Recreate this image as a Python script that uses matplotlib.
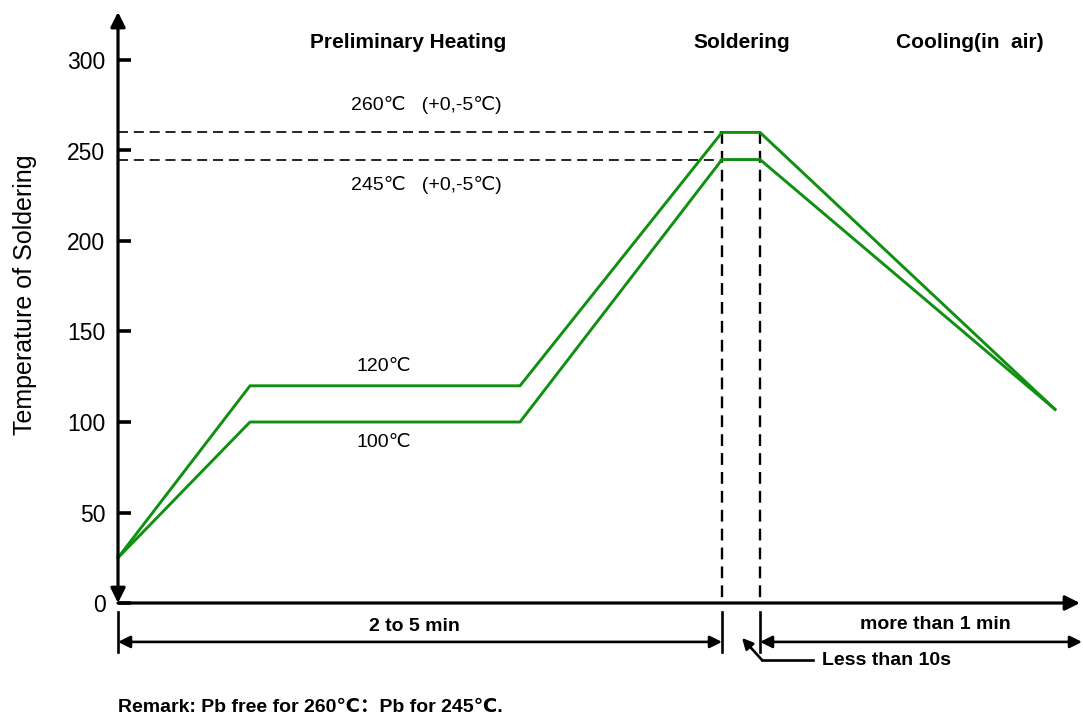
import matplotlib
matplotlib.use("Agg")
from matplotlib import pyplot as plt

plt.rcParams['font.family'] = ['Liberation Sans', 'DejaVu Sans', 'Noto Sans CJK SC']

# 时间轴为示意单位
time_pb_free = [0, 132, 402, 604, 642, 937]
temp_pb_free = [25, 120, 120, 260, 260, 107]
time_pb = [0, 132, 402, 604, 642, 937]
temp_pb = [25, 100, 100, 245, 245, 107]

y_ticks = [0, 50, 100, 150, 200, 250, 300]
peak_levels = [260, 245]
solder_window = [604, 642]
x_end = 962

green = '#109010'

fig = plt.figure(figsize=(10.83, 7.2), dpi=100)
ax = fig.add_axes([118 / 1083, 117 / 720, 962 / 1083, 579.2 / 720])
ax.set_xlim(0, x_end)
ax.set_ylim(0, 320)
for s in ax.spines.values():
    s.set_visible(False)

ax.plot(time_pb_free, temp_pb_free, color=green, lw=2.1, clip_on=False)
ax.plot(time_pb, temp_pb, color=green, lw=2.1, clip_on=False)

# 虚线
for lv in peak_levels:
    ax.plot([0, solder_window[1]], [lv, lv], color='black', lw=1.2,
            linestyle=(0, (6, 3.5)), zorder=1)
for xv in solder_window:
    ax.plot([xv, xv], [peak_levels[0], 0], color='black', lw=1.7,
            linestyle=(0, (5, 3)), zorder=1)

# 坐标轴箭头
ax.annotate('', xy=(x_end, 0), xytext=(0, 0), annotation_clip=False,
            arrowprops=dict(arrowstyle='-|>', lw=2.3, color='black',
                            mutation_scale=22, shrinkA=0, shrinkB=0))
ax.annotate('', xy=(0, 326.5), xytext=(0, 0), annotation_clip=False,
            arrowprops=dict(arrowstyle='<|-|>', lw=2.3, color='black',
                            mutation_scale=22, shrinkA=0, shrinkB=0))

ax.set_xticks([])
ax.set_yticks(y_ticks)
ax.set_yticklabels([str(v) for v in y_ticks])
ax.tick_params(axis='y', direction='in', length=9, width=2.6, pad=9,
               labelsize=16.5)

fig.text(25 / 1083, 1 - 295 / 720, 'Temperature of Soldering', rotation=90,
         ha='center', va='center', fontsize=18)

# 阶段标题
ax.text(290, 309.5, 'Preliminary Heating', ha='center', va='center',
        fontsize=15, fontweight='bold')
ax.text(624, 309.5, 'Soldering', ha='center', va='center',
        fontsize=15, fontweight='bold')
ax.text(852, 309.5, 'Cooling(in  air)', ha='center', va='center',
        fontsize=15, fontweight='bold')

ax.text(308, 275, '260℃   (+0,-5℃)', ha='center', va='center', fontsize=14)
ax.text(308, 231, '245℃   (+0,-5℃)', ha='center', va='center', fontsize=14)
ax.text(266, 130.5, '120℃', ha='center', va='center', fontsize=14)
ax.text(266, 88.5, '100℃', ha='center', va='center', fontsize=14)

# 时间区间标注
for xv in [0] + solder_window:
    ax.plot([xv, xv], [-5, -27], color='black', lw=1.9, clip_on=False)
ax.annotate('', xy=(solder_window[0], -21.5), xytext=(0, -21.5),
            annotation_clip=False,
            arrowprops=dict(arrowstyle='<|-|>', lw=1.9, color='black',
                            mutation_scale=18, shrinkA=0, shrinkB=0))
ax.annotate('', xy=(x_end + 2, -21.5), xytext=(solder_window[1], -21.5),
            annotation_clip=False,
            arrowprops=dict(arrowstyle='<|-|>', lw=1.9, color='black',
                            mutation_scale=18, shrinkA=0, shrinkB=0))
ax.text(296, -13, '2 to 5 min', ha='center', va='center', fontsize=14,
        fontweight='bold')
ax.text(817, -12, 'more than 1 min', ha='center', va='center', fontsize=14,
        fontweight='bold')

ax.plot([695, 644], [-31.5, -31.5], color='black', lw=1.9, clip_on=False)
ax.annotate('', xy=(624, -19.3), xytext=(644, -31.5), annotation_clip=False,
            arrowprops=dict(arrowstyle='-|>', lw=1.9, color='black',
                            mutation_scale=16, shrinkA=0, shrinkB=0))
ax.text(704, -31.5, 'Less than 10s', ha='left', va='center', fontsize=14,
        fontweight='bold')

ax.text(0, -57.5, 'Remark: Pb free for 260℃：Pb for 245℃.', ha='left',
        va='center', fontsize=14, fontweight='bold')

plt.savefig('out.png', dpi=100)
